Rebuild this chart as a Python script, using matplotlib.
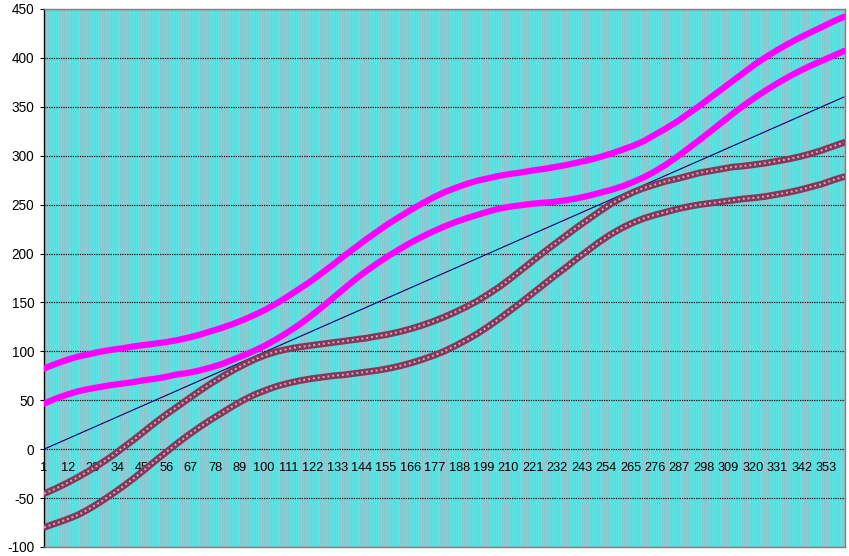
import matplotlib
matplotlib.use("Agg")
import matplotlib.pyplot as plt
from matplotlib.transforms import offset_copy

# ---- data ----
angles = list(range(0, 361, 5))          # degrees; category = angle + 1
categories = [a + 1 for a in angles]

diagonal = [0, 5, 10, 15, 20, 25, 30, 35, 40, 45, 50, 55, 60, 65, 70, 75, 80, 85, 90,
            95, 100, 105, 110, 115, 120, 125, 130, 135, 140, 145, 150, 155, 160, 165,
            170, 175, 180, 185, 190, 195, 200, 205, 210, 215, 220, 225, 230, 235, 240,
            245, 250, 255, 260, 265, 270, 275, 280, 285, 290, 295, 300, 305, 310, 315,
            320, 325, 330, 335, 340, 345, 350, 355, 360]

magenta_upper = [82.5, 87, 91, 94.5, 97, 99.5, 101.5, 103, 105, 106.5, 108, 109.5, 111.5,
                 114, 117, 120.5, 124, 128, 132.5, 137.5, 143, 149.5, 156.5, 164, 171.5,
                 180, 188.5, 197.5, 206, 214.5, 222.5, 230.5, 237.5, 244.5, 251, 257,
                 262.5, 267, 271, 274.5, 277, 279.5, 281.5, 283, 285, 286.5, 288.5, 290.5,
                 293, 295.5, 298.5, 302, 306, 310, 315, 321.5, 328, 335, 343, 351, 359.5,
                 368, 376.5, 385, 393.5, 401, 408, 414.5, 420.5, 426, 431.5, 437, 442]

magenta_lower = [46.5, 51.5, 55.5, 59, 61.5, 63.5, 65.5, 67, 68.5, 70.5, 72, 74, 76.5, 78,
                 80.5, 83.5, 87, 91.5, 96, 101, 106.5, 113, 120, 127.5, 136, 145, 154.5,
                 164, 173.5, 182, 190, 197.5, 204.5, 211, 217, 222.5, 227.5, 232, 236,
                 239.5, 243, 246, 248, 249.5, 251, 252, 253, 254.5, 256.5, 259, 262, 265,
                 268.5, 273, 278, 284, 291, 299, 307.5, 316, 325, 334, 343, 351.5, 359.5,
                 367, 374, 380.5, 386.5, 392, 397, 402, 407]

brown_upper = [-45.5, -40.5, -35, -29, -22.5, -15.5, -8, 0.5, 9, 18, 27, 35.5, 43.5, 51.5,
               59.5, 67, 74, 80.5, 86.5, 92, 96.5, 100, 102.5, 104.5, 106, 107.5, 109,
               110.5, 112, 113.5, 115.5, 117.5, 120, 123, 126.5, 130.5, 135, 140, 145.5,
               151.5, 158.5, 166, 174.5, 183.5, 192.5, 201.5, 210, 218.5, 227, 235, 243,
               250.5, 257, 262.5, 267, 270.5, 274, 276.5, 279.5, 282.5, 284.5, 286.5,
               288.5, 289.5, 291, 292.5, 294.5, 296.5, 299, 302, 305.5, 309.5, 313.5]

brown_lower = [-80, -76, -72, -67.5, -61.5, -54.5, -47, -39, -30.5, -21.5, -12, -3, 6,
               14.5, 22.5, 30, 37, 44, 50.5, 56, 60.5, 64.5, 67.5, 70, 72, 73.5, 75, 76,
               77.5, 79, 80.5, 82.5, 85, 88, 91.5, 95.5, 100, 105.5, 111.5, 118, 125.5,
               133.5, 142, 150.5, 159.5, 168.5, 177.5, 186, 195, 203.5, 212, 219.5, 226,
               231.5, 236, 239.5, 242.5, 245.5, 248, 250, 251.5, 253, 254.5, 256, 257,
               258.5, 260.5, 262.5, 265, 268, 271, 275, 278.5]

x_tick_cats = list(range(1, 361, 11))
x_tick_labels = [str(c) for c in x_tick_cats]
y_ticks = list(range(-100, 451, 50))
all_categories = list(range(1, 362))

# ---- figure ----
W, H = 849, 556
fig = plt.figure(figsize=(W / 100, H / 100), dpi=100)
fig.patch.set_facecolor("white")
ax = fig.add_axes([44 / W, 9 / H, 801 / W, 538 / H])
ax.set_facecolor("#5EE2E2")
ax.set_xlim(1, 361.5)
ax.set_ylim(-100, 450)

# per-category vertical gridlines
ax.vlines(all_categories, -100, 450, colors="#A2B6C2", linewidth=0.42, zorder=0.5)

# horizontal dotted gridlines
ax.set_yticks(y_ticks)
ax.yaxis.grid(True, color="black", linestyle=(0, (1, 1)), linewidth=0.85, zorder=0.8)
ax.set_axisbelow(True)

# series
ax.plot(categories, diagonal, color="#000070", linewidth=0.8, zorder=3)
for vals in (brown_upper, brown_lower):
    ax.plot(categories, vals, color="#84385A", linewidth=4.8, solid_capstyle="round",
            zorder=4)
    ax.plot(categories, vals, color="#D9A8BE", linewidth=1.4, linestyle=(0, (1, 1.5)),
            zorder=5)
for vals in (magenta_upper, magenta_lower):
    ax.plot(categories, vals, color="#FF00FF", linewidth=4.5, solid_capstyle="round",
            zorder=6)

# spines
for s in ("top", "right", "bottom"):
    ax.spines[s].set_color("#808080")
    ax.spines[s].set_linewidth(1.0)
ax.spines["left"].set_color("black")
ax.spines["left"].set_linewidth(1.0)

# y tick labels
ax.tick_params(axis="y", direction="out", length=3, width=0.8, pad=4, labelsize=9.8,
               colors="black")
ax.set_yticklabels([str(v) for v in y_ticks], fontfamily="Liberation Sans")

# x tick labels, placed along y = 0
ax.set_xticks([])
trans = offset_copy(ax.transData, fig=fig, y=-9.5, units="points")
for c, lbl in zip(x_tick_cats, x_tick_labels):
    ax.text(c, 0, lbl, transform=trans, ha="center", va="top", fontsize=9.2,
            fontfamily="Liberation Sans", color="black", zorder=2)

fig.savefig("out.png", dpi=100)
